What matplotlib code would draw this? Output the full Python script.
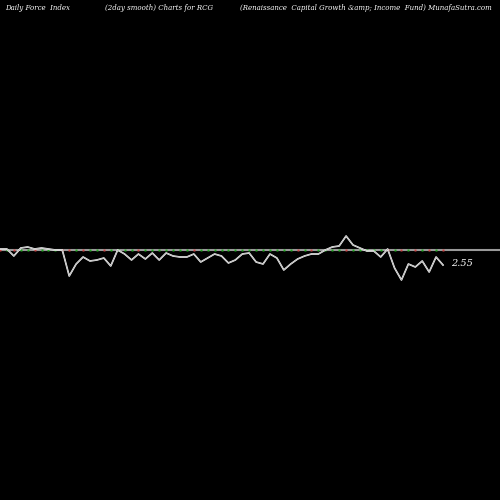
import matplotlib
matplotlib.use("Agg")
import matplotlib.pyplot as plt
import numpy as np

force = [0.5,0.5,-6.5,1.5,2.5,0.5,1.5,0.5,-0.5,-0.5,-26.5,-14.5,-7.5,-11.5,-10.5,-8.5,-16.5,-0.5,-4.5,-10.5,
         -4.5,-9.5,-3.5,-10.5,-3.5,-6.5,-7.5,-7.5,-4.5,-12.5,-8.5,-4.5,-6.5,-13.5,-10.5,-4.5,-3.5,-12.5,-14.5,-4.5,
         -8.5,-20.5,-14.5,-9.5,-6.5,-4.5,-4.5,-0.5,2.5,3.5,13.5,4.5,1.5,-1.5,-1.5,-7.5,0.5,-18.5,-30.5,-14.5,
         -17.5,-11.5,-22.5,-7.5,-15.5]
signs = ['r','g','r','g','g','r','g','g','g','r','r','g','r','g','g','r','g','g','g','g','r','g','g','g','g','g','g','g','r','g','g','g',
         'g','g','g','g','g','g','g','g','g','g','g','r','g','r','g','g','g','g','r','g','g','g','g','g','r','g','r','g','r','g','r','g','r']
last_label = "2.55"

fig = plt.figure(figsize=(5,5), dpi=100, facecolor='black')
ax = fig.add_axes([0,0,1,1], facecolor='black')
ax.set_xlim(0,500); ax.set_ylim(-250.5,249.5); ax.axis('off')
x = np.linspace(0,443,len(force))
ax.axhline(0, color='#999999', lw=1.5)
cols = {'r':'#cc4444','g':'#22aa22'}
for xi, s in zip(x, signs):
    ax.plot(xi, 0, marker='s', ms=1.5, color=cols[s], mec='none')
ax.plot(x, force, color='white', lw=1.2)
ax.plot(x, force, color='#aaaaaa', lw=0.5)
ax.text(451, -14.5, last_label, color='white', fontsize=7, family='DejaVu Serif', style='italic', va='center')
kw = dict(color='white', fontsize=5, family='DejaVu Serif', style='italic', va='center')
ax.text(5, 241, "Daily Force  Index", **kw)
ax.text(105, 241, "(2day smooth) Charts for RCG", **kw)
ax.text(240, 241, "(Renaissance  Capital Growth &amp; Income  Fund) MunafaSutra.com", **kw)
fig.savefig("out.png", dpi=100, facecolor='black')
